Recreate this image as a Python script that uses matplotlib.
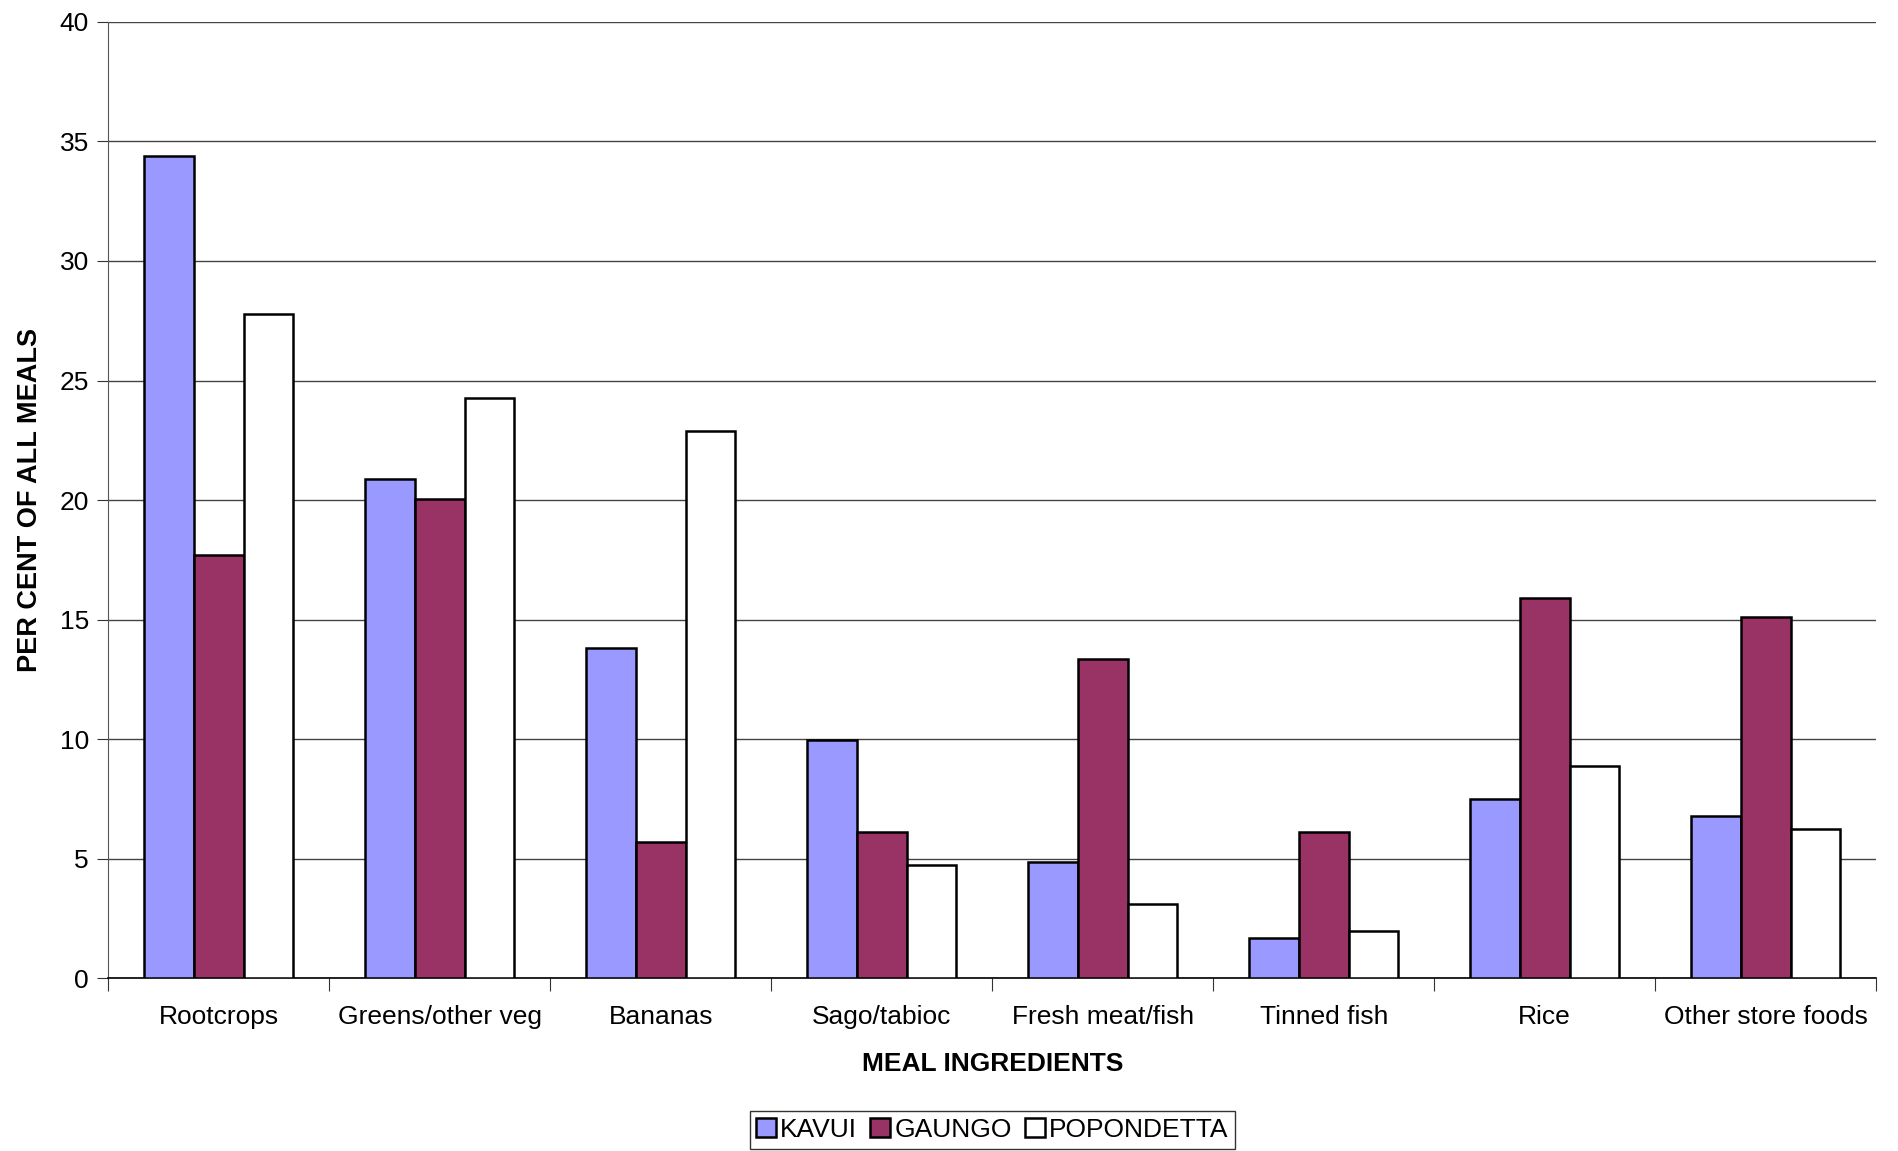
import numpy as np
import matplotlib
matplotlib.use("Agg")
import matplotlib.pyplot as plt

categories = ["Rootcrops", "Greens/other veg", "Bananas", "Sago/tabioc",
              "Fresh meat/fish", "Tinned fish", "Rice", "Other store foods"]
kavui = [34.4, 20.9, 13.8, 9.95, 4.85, 1.7, 7.5, 6.8]
gaungo = [17.7, 20.05, 5.7, 6.1, 13.35, 6.1, 15.9, 15.1]
popondetta = [27.8, 24.25, 22.9, 4.75, 3.1, 2.0, 8.9, 6.25]
series_names = ["KAVUI", "GAUNGO", "POPONDETTA"]
yticks = [0, 5, 10, 15, 20, 25, 30, 35, 40]

plt.rcParams['font.family'] = ['Liberation Sans', 'DejaVu Sans']

fig = plt.figure(figsize=(18.99, 11.51), dpi=100)
ax = fig.add_axes([0.057, 0.150, 0.931, 0.831])

x = np.arange(len(categories))
w = 0.225
colors = ["#9999FF", "#993366", "#FFFFFF"]
for i, (vals, name) in enumerate(zip([kavui, gaungo, popondetta], series_names)):
    ax.bar(x + (i - 1) * w, vals, width=w, color=colors[i], edgecolor="black",
           linewidth=1.8, label=name, zorder=3)

ax.set_xlim(-0.5, len(categories) - 0.5)
ax.set_ylim(0, 40)
ax.set_yticks(yticks)
ax.set_yticklabels([str(t) for t in yticks], fontsize=19)
ax.yaxis.grid(True, color="#444444", linewidth=1.0, zorder=0)

# category labels centred, ticks sitting between groups
ax.set_xticks(np.arange(len(categories) + 1) - 0.5)
ax.set_xticklabels([])
ax.set_xticks(x, minor=True)
ax.set_xticklabels(categories, minor=True, fontsize=19)
ax.tick_params(axis="x", which="minor", length=0, pad=19)
ax.tick_params(axis="x", which="major", length=9, color="#333333")
ax.tick_params(axis="y", length=8, color="#333333", pad=6)

for s in ["top", "right"]:
    ax.spines[s].set_visible(False)
ax.spines["left"].set_color("#555555")
ax.spines["bottom"].set_color("black")
ax.spines["bottom"].set_linewidth(1.2)

ax.set_xlabel("MEAL INGREDIENTS", fontsize=19, fontweight="bold", labelpad=17)
ax.set_ylabel("PER CENT OF ALL MEALS", fontsize=19.5, fontweight="bold", labelpad=12)

leg = ax.legend(loc="lower center", bbox_to_anchor=(0.5, -0.178), ncol=3,
                fontsize=19, frameon=True, fancybox=False, edgecolor="black",
                handlelength=0.75, handleheight=0.75, handletextpad=0.15,
                columnspacing=0.5, borderpad=0.25, borderaxespad=0)
leg.get_frame().set_linewidth(1.0)

fig.savefig("out.png", dpi=100)
